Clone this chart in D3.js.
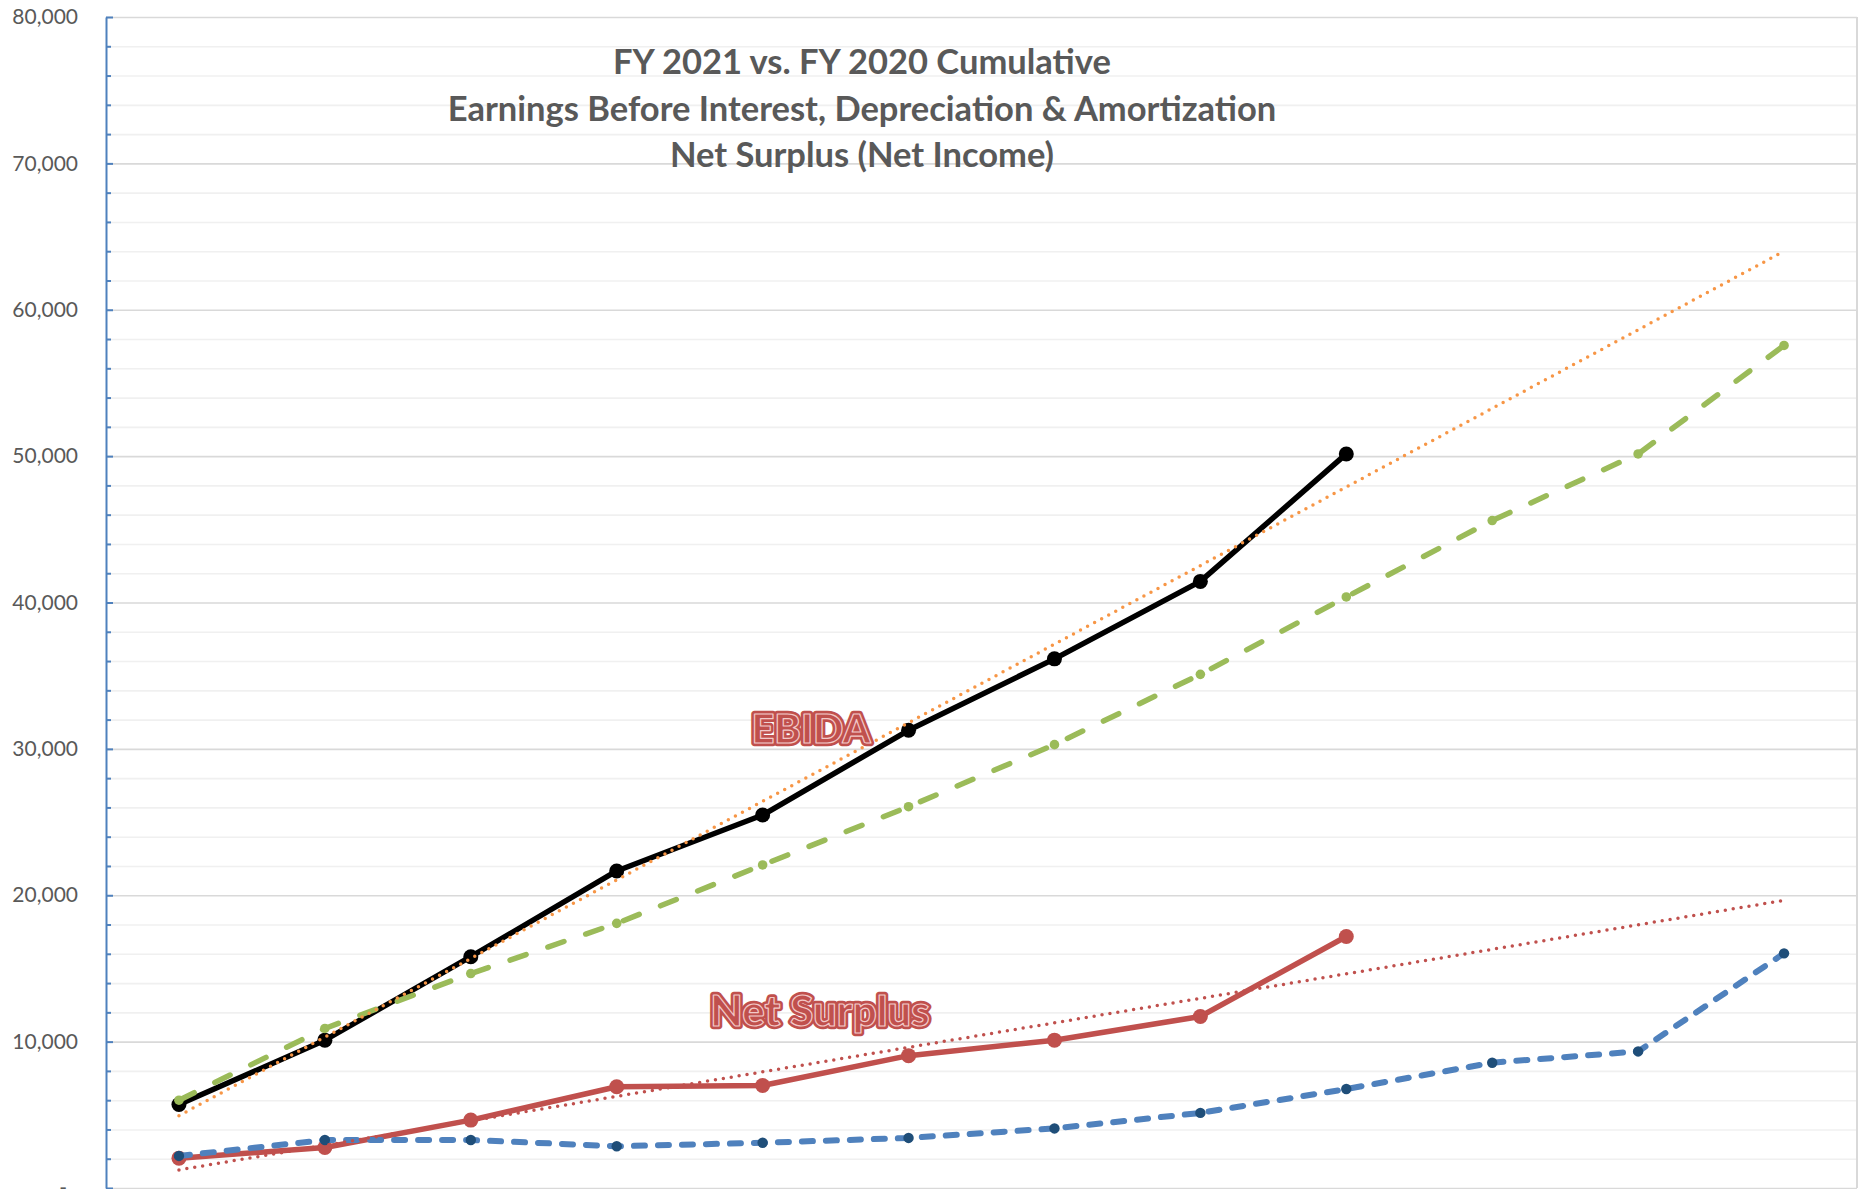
<!DOCTYPE html>
<html>
<head>
<meta charset="utf-8">
<script src="https://cdn.jsdelivr.net/npm/d3@7"></script>
<style>
  body { margin: 0; background: #fff; }
  svg { display: block; }
</style>
</head>
<body>
<script>
// Fiscal-year months (July start)
const months = ["Jul", "Aug", "Sep", "Oct", "Nov", "Dec", "Jan", "Feb", "Mar", "Apr", "May", "Jun"];

// Cumulative EBIDA
const ebida2021 = [5700, 10100, 15800, 21660, 25480, 31270, 36150, 41440, 50150];
const ebida2020 = [6000, 10900, 14650, 18080, 22070, 26050, 30290, 35090, 40380, 45600, 50150, 57560];

// Cumulative net surplus (net income)
const surplus2021 = [2040, 2770, 4640, 6920, 7000, 9040, 10100, 11720, 17180];
const surplus2020 = [2190, 3280, 3280, 2850, 3090, 3420, 4070, 5130, 6760, 8560, 9330, 16030];

// Value axis
const yMajorTicks = [0, 10000, 20000, 30000, 40000, 50000, 60000, 70000, 80000];
const yMinorStep = 2000;

const titleLines = [
  "FY 2021 vs. FY 2020 Cumulative",
  "Earnings Before Interest, Depreciation & Amortization",
  "Net Surplus (Net Income)"
];

const W = 1869, H = 1189;
const plot = { left: 106, right: 1857, top: 17, bottom: 1188 };

const svg = d3.select("body").append("svg")
  .attr("width", W).attr("height", H)
  .attr("viewBox", `0 0 ${W} ${H}`);

const x = d3.scalePoint()
  .domain(months)
  .range([plot.left, plot.right])
  .padding(0.5);

const y = d3.scaleLinear()
  .domain([0, 80000])
  .range([plot.bottom, plot.top]);

const minorValues = d3.range(0, 80000 + 1, yMinorStep).filter(v => v % 10000 !== 0);

// Minor gridlines
svg.append("g")
  .attr("transform", `translate(${plot.left},0)`)
  .call(d3.axisLeft(y).tickValues(minorValues).tickSize(-(plot.right - plot.left)).tickFormat(""))
  .call(g => g.select(".domain").remove())
  .call(g => g.selectAll("line").attr("stroke", "#F0F0F0").attr("stroke-width", 1.6));

// Major gridlines
svg.append("g")
  .attr("transform", `translate(${plot.left},0)`)
  .call(d3.axisLeft(y).tickValues(yMajorTicks).tickSize(-(plot.right - plot.left)).tickFormat(""))
  .call(g => g.select(".domain").remove())
  .call(g => g.selectAll("line").attr("stroke", "#D9D9D9").attr("stroke-width", 1.6));

// Plot-area right border
svg.append("line")
  .attr("x1", plot.right).attr("x2", plot.right)
  .attr("y1", plot.top).attr("y2", plot.bottom)
  .attr("stroke", "#D9D9D9").attr("stroke-width", 2);

// Minor ticks on the value axis
svg.append("g")
  .attr("transform", `translate(${plot.left},0)`)
  .call(d3.axisLeft(y).tickValues(minorValues).tickSizeInner(-5).tickSizeOuter(0).tickFormat(""))
  .call(g => g.select(".domain").remove())
  .call(g => g.selectAll("line").attr("stroke", "#4F81BD").attr("stroke-width", 2));

// Value axis with labels
const fmt = d3.format(",");
svg.append("g")
  .attr("transform", `translate(${plot.left},0)`)
  .call(d3.axisLeft(y).tickValues(yMajorTicks).tickSizeInner(-7).tickSizeOuter(0).tickPadding(28)
    .tickFormat(d => d === 0 ? "-" : fmt(d)))
  .call(g => g.select(".domain").attr("stroke", "#4F81BD").attr("stroke-width", 2))
  .call(g => g.selectAll("line").attr("stroke", "#4F81BD").attr("stroke-width", 2))
  .call(g => g.selectAll("text")
    .attr("fill", "#595959")
    .style("font-family", "Lato, 'Open Sans', sans-serif")
    .style("font-size", "21px"))
  .call(g => g.selectAll(".tick").filter(d => d === 0).select("text").attr("dx", -11));

// Title
svg.append("g")
  .selectAll("text")
  .data(titleLines)
  .join("text")
  .attr("x", 862)
  .attr("y", (d, i) => 74 + i * 46.5)
  .attr("text-anchor", "middle")
  .attr("fill", "#595959")
  .style("font-family", "Lato, sans-serif")
  .style("font-weight", "bold")
  .style("font-size", "34.5px")
  .text(d => d);

// Least-squares trend over the reported months, projected across the year
function trend(values) {
  const n = values.length;
  const xs = d3.range(1, n + 1);
  const mx = d3.mean(xs), my = d3.mean(values);
  const slope = d3.sum(xs, (xi, i) => (xi - mx) * (values[i] - my)) / d3.sum(xs, xi => (xi - mx) ** 2);
  const intercept = my - slope * mx;
  return months.map((m, i) => ({ m, v: intercept + slope * (i + 1) }));
}

const line = d3.line().x(d => x(d.m)).y(d => y(d.v));
const pts = arr => arr.map((v, i) => ({ m: months[i], v }));

function drawSeries(values, opts) {
  const data = pts(values);
  svg.append("path")
    .datum(data)
    .attr("d", line)
    .attr("fill", "none")
    .attr("stroke", opts.color)
    .attr("stroke-width", opts.width)
    .attr("stroke-linecap", opts.dash ? "round" : "butt")
    .attr("stroke-linejoin", "round")
    .attr("stroke-dasharray", opts.dash || null);
  svg.append("g")
    .selectAll("circle")
    .data(data)
    .join("circle")
    .attr("cx", d => x(d.m))
    .attr("cy", d => y(d.v))
    .attr("r", opts.r)
    .attr("fill", opts.marker);
}

drawSeries(ebida2021, { color: "#000000", width: 5.5, r: 7.5, marker: "#000000" });
drawSeries(surplus2021, { color: "#C0504D", width: 5.5, r: 7.5, marker: "#C0504D" });
drawSeries(ebida2020, { color: "#9BBB59", width: 5.5, r: 4.8, marker: "#9BBB59", dash: "17 23" });
drawSeries(surplus2020, { color: "#4F81BD", width: 6, r: 5.2, marker: "#1F4E79", dash: "11 13" });

// Trendlines for FY 2021
[[ebida2021, "#F79646"], [surplus2021, "#C0504D"]].forEach(([vals, color]) => {
  svg.append("path")
    .datum(trend(vals))
    .attr("d", line)
    .attr("fill", "none")
    .attr("stroke", color)
    .attr("stroke-width", 3.5)
    .attr("stroke-linecap", "round")
    .attr("stroke-dasharray", "0 8");
});

// Series labels
function wordArt(text, cx, baseline, size) {
  const g = svg.append("g")
    .style("font-family", "Lato, sans-serif")
    .style("font-weight", 900)
    .style("font-size", size + "px")
    .attr("text-anchor", "middle");
  g.append("text")
    .attr("x", cx).attr("y", baseline)
    .attr("fill", "#C0504D")
    .attr("stroke", "#C0504D")
    .attr("stroke-width", 6.5)
    .attr("stroke-linejoin", "round")
    .text(text);
  g.append("text")
    .attr("x", cx).attr("y", baseline)
    .attr("fill", "#C0504D")
    .attr("stroke", "#F2C9C8")
    .attr("stroke-width", 1.2)
    .attr("stroke-linejoin", "round")
    .text(text);
}

wordArt("EBIDA", 811, 743, 40);
wordArt("Net Surplus", 820, 1026, 42);
</script>
</body>
</html>
